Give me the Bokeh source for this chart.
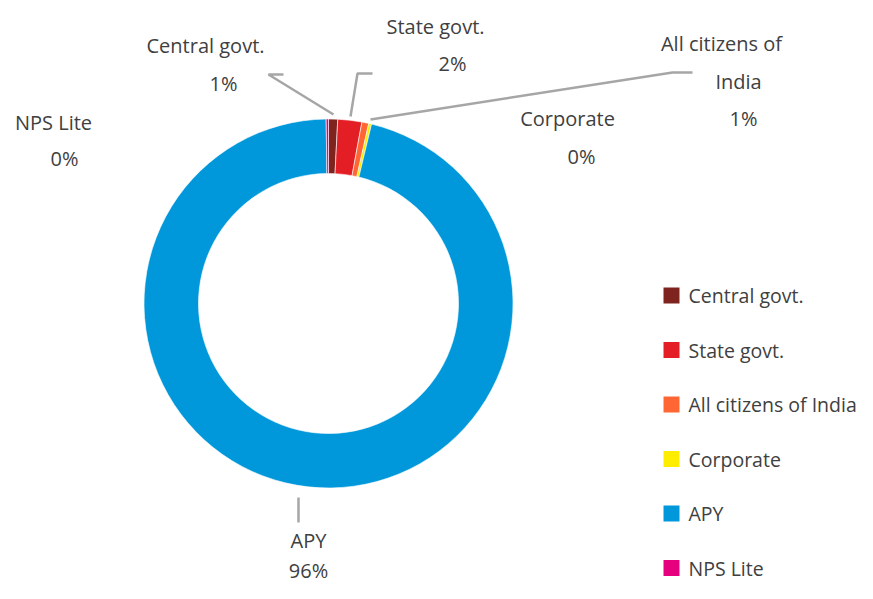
import numpy as np
from bokeh.plotting import figure
from bokeh.models import Range1d, ColumnDataSource
from bokeh.core.properties import value
from bokeh.embed import file_html
from bokeh.resources import INLINE

# ---- data ----
categories = ["Central govt.", "State govt.", "All citizens of India", "Corporate", "APY", "NPS Lite"]
shares = [0.8, 2.1, 0.6, 0.25, 96.05, 0.2]
pct_labels = ["1%", "2%", "1%", "0%", "96%", "0%"]
colors = ["#7F231E", "#E31E24", "#FF6633", "#FFED00", "#0098DA", "#E6007E"]

W, H = 857, 583
FONT = "Open Sans"
TXT = "#404040"

def Y(sy):  # screen y (from top of figure) -> data y
    return H - sy

p = figure(width=W, height=H, output_backend="svg", toolbar_location=None,
           x_range=Range1d(0, W), y_range=Range1d(0, H), min_border=0)
p.axis.visible = False
p.grid.visible = False
p.outline_line_color = None
p.background_fill_color = "white"
p.border_fill_color = "white"

# ---- donut ----
cx, cy = 328, Y(303)
r_out, r_in = 184.5, 130
vals = np.array(shares, dtype=float)
frac = vals / vals.sum()
cum = np.concatenate([[0], np.cumsum(frac)])
start = np.pi / 2 - cum[:-1] * 2 * np.pi
end = np.pi / 2 - cum[1:] * 2 * np.pi
src = ColumnDataSource(dict(start=start, end=end, color=colors))
p.annular_wedge(x=cx, y=cy, inner_radius=r_in, outer_radius=r_out,
                start_angle="start", end_angle="end", direction="clock",
                fill_color="color", line_color="white", line_width=0.6, source=src)

# ---- leader lines ----
lc = "#A6A6A6"
p.line([283, 268, 333], [Y(74), Y(74), Y(114)], line_color=lc, line_width=2.5)
p.line([372, 357, 350], [Y(73), Y(73), Y(116)], line_color=lc, line_width=2.5)
p.line([370, 672, 692], [Y(119), Y(72), Y(72)], line_color=lc, line_width=2.5)
p.line([298, 298], [Y(497), Y(522)], line_color=lc, line_width=2.5)

# ---- data labels ----
lab_x, lab_y, lab_t = [], [], []
name_lines = {
    0: [(205, 45, "Central govt."), (223, 83, None)],
    1: [(435, 26, "State govt."), (452, 63, None)],
    2: [(721, 43, "All citizens of"), (738, 81, "India"), (743, 118, None)],
    3: [(567, 118, "Corporate"), (581, 156, None)],
    4: [(308, 540, "APY"), (308, 570, None)],
    5: [(53, 122, "NPS Lite"), (64, 158, None)],
}
for i, lines in name_lines.items():
    for (x, y, t) in lines:
        lab_x.append(x)
        lab_y.append(Y(y))
        lab_t.append(t if t is not None else pct_labels[i])
p.text(x=lab_x, y=lab_y, text=lab_t, text_align="center", text_baseline="middle",
       text_font=value(FONT), text_font_size="20px", text_color=TXT)

# ---- legend ----
lg_y = [Y(295 + 54.5 * i) for i in range(len(categories))]
p.rect(x=[671] * len(categories), y=lg_y, width=16, height=16,
       fill_color=colors, line_color=None)
p.text(x=[688] * len(categories), y=lg_y, text=categories, text_align="left",
       text_baseline="middle", text_font=value(FONT), text_font_size="19.5px",
       text_color=TXT)

open("out.html", "w").write(file_html(p, INLINE))
